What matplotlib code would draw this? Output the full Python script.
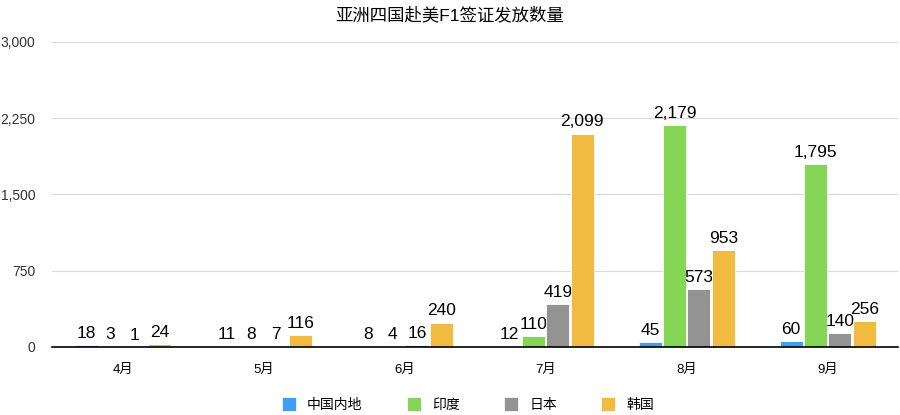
import numpy as np
import matplotlib
matplotlib.use('Agg')
import matplotlib.pyplot as plt
from matplotlib.lines import Line2D

plt.rcParams['font.family'] = ['Liberation Sans', 'Noto Sans CJK SC', 'DejaVu Sans']

months = ["4月", "5月", "6月", "7月", "8月", "9月"]
series = ["中国内地", "印度", "日本", "韩国"]
china = [18, 11, 8, 12, 45, 60]
india = [3, 8, 4, 110, 2179, 1795]
japan = [1, 7, 16, 419, 573, 140]
korea = [24, 116, 240, 2099, 953, 256]
colors = ["#3f9ff3", "#84d654", "#939393", "#f0bb40"]

values = [china, india, japan, korea]

fig = plt.figure(figsize=(9, 4.15), dpi=100)
ax = fig.add_axes([0.058, 0.164, 0.94, 0.735])

x = np.arange(len(months))
width = 0.163
step = 0.173
for i, (vals, label, c) in enumerate(zip(values, series, colors)):
    pos = x + (i - 1.5) * step
    ax.bar(pos, vals, width, label=label, color=c, edgecolor="white", linewidth=0.6, zorder=3)
    for xp, v in zip(pos, vals):
        ax.annotate(f"{v:,}", (xp, v), xytext=(0, 3), textcoords="offset points",
                    ha="center", va="bottom", fontsize=12.5, color="black")

ax.set_xlim(-0.5, len(months) - 0.5)
ax.set_ylim(0, 3000)
ax.set_yticks([0, 750, 1500, 2250, 3000])
ax.set_yticklabels([f"{t:,}" for t in [0, 750, 1500, 2250, 3000]], fontsize=10, color="#333333")
ax.set_xticks(x, months, fontsize=9.5)
ax.tick_params(length=0, pad=12)
ax.tick_params(axis="y", pad=12)
ax.grid(axis="y", color="#d9d9d9", linewidth=0.8, zorder=0)
for s in ["top", "right", "left"]:
    ax.spines[s].set_visible(False)
ax.spines["bottom"].set_color("black")
ax.spines["bottom"].set_linewidth(1.2)
ax.spines["bottom"].set_zorder(4)

fig.text(0.5, 0.965, "亚洲四国赴美F1签证发放数量", ha="center", va="center", fontsize=12.5)

handles = [Line2D([], [], marker="s", linestyle="none", markersize=9.5,
                  markerfacecolor=c, markeredgecolor="white", markeredgewidth=0.5)
           for c in colors]
fig.legend(handles, series, loc="lower center", bbox_to_anchor=(0.52, -0.022), ncol=4,
           frameon=False, fontsize=10, handlelength=1.0, columnspacing=3.2, handletextpad=0.8)

fig.savefig("out.png")
